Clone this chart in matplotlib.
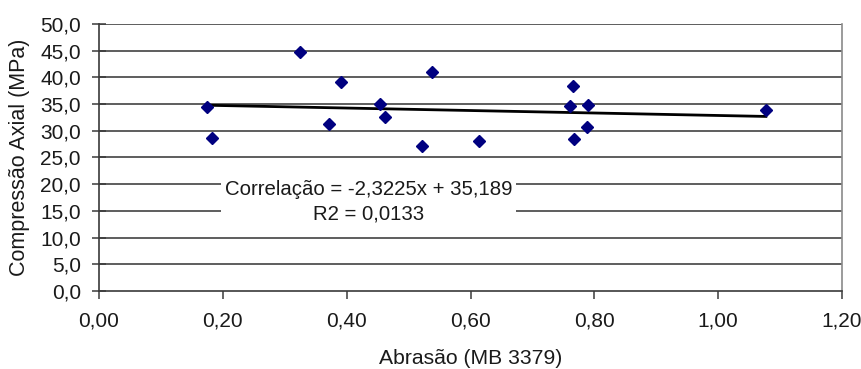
import numpy as np
import matplotlib
matplotlib.use('Agg')
from matplotlib import pyplot as plt
from matplotlib.ticker import FuncFormatter, MultipleLocator

plt.rcParams['font.family'] = ['Liberation Sans', 'DejaVu Sans']

# abrasão (MB 3379) x compressão axial (MPa)
abrasao = [0.175, 0.182, 0.324, 0.372, 0.391, 0.454, 0.462, 0.522,
           0.538, 0.614, 0.765, 0.760, 0.767, 0.790, 0.788, 1.077]
compressao = [34.4, 28.7, 44.7, 31.2, 39.2, 35.1, 32.5, 27.1,
              41.1, 28.1, 38.3, 34.6, 28.4, 34.8, 30.7, 33.8]

# reta de correlação
coef_a = -2.3225
coef_b = 35.189
r2 = 0.0133

fig = plt.figure(figsize=(8.61, 3.69), dpi=100)
ax = fig.add_axes([0.115, 0.2114, 0.863, 0.7236])

ax.set_xlim(0, 1.2)
ax.set_ylim(0, 50)
ax.yaxis.set_major_locator(MultipleLocator(5))
ax.xaxis.set_major_locator(MultipleLocator(0.2))
ax.yaxis.set_major_formatter(FuncFormatter(lambda v, p: f"{v:.1f}".replace('.', ',')))
ax.xaxis.set_major_formatter(FuncFormatter(lambda v, p: f"{v:.2f}".replace('.', ',')))

for v in np.arange(5, 51, 5):
    ax.axhline(v, color='#3a3a3a', lw=1.15, zorder=1)

ax.spines['top'].set_visible(False)
ax.spines['left'].set_color('#3a3a3a')
ax.spines['bottom'].set_color('#3a3a3a')
ax.spines['right'].set_color('#8a8a8a')
for s in ax.spines.values():
    s.set_linewidth(1.2)

ax.tick_params(axis='y', direction='inout', length=10, width=1.1, color='#3a3a3a',
               labelsize=15, labelcolor='#1a1a1a', pad=8)
ax.tick_params(axis='x', direction='out', length=6, width=1.1, color='#3a3a3a',
               labelsize=15, labelcolor='#1a1a1a', pad=9)

ax.plot(abrasao, compressao, 'D', color='#000080', ms=6.5, zorder=4)

xs = np.array([min(abrasao), max(abrasao)])
ax.plot(xs, coef_a * xs + coef_b, color='black', lw=2, zorder=3)

ax.text(0.435, 16.7,
        f"Correlação = {coef_a:.4f}x + {coef_b:.3f}".replace('.', ',') + "\n"
        + f"R2 = {r2:.4f}".replace('.', ','),
        ha='center', va='center', fontsize=14.7, color='#1a1a1a', linespacing=1.42,
        bbox=dict(facecolor='white', edgecolor='none', pad=3), zorder=5)

ax.set_xlabel('Abrasão (MB 3379)', fontsize=15.2, color='#1a1a1a', labelpad=13)
ax.set_ylabel('Compressão Axial (MPa)', fontsize=15.5, color='#1a1a1a', labelpad=7)

fig.savefig('out.png', dpi=100, facecolor='white')
